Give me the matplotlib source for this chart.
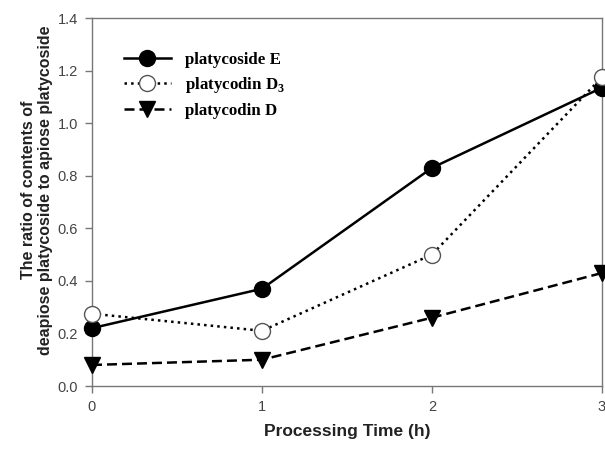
import matplotlib
matplotlib.use("Agg")
import matplotlib.pyplot as plt

time_h = [0, 1, 2, 3]
platycoside_e = [0.22, 0.37, 0.83, 1.135]
platycodin_d3 = [0.275, 0.21, 0.50, 1.175]
platycodin_d = [0.08, 0.10, 0.26, 0.43]
xticks = [0, 1, 2, 3]
yticks = [0.0, 0.2, 0.4, 0.6, 0.8, 1.0, 1.2, 1.4]

plt.rcParams['mathtext.fontset'] = 'custom'
plt.rcParams['mathtext.bf'] = 'Liberation Serif:bold'
plt.rcParams['mathtext.rm'] = 'Liberation Serif'

fig = plt.figure(figsize=(6.05, 4.5), dpi=100)
ax = fig.add_axes([92/605, 1-386/450, (602-92)/605, (386-18)/450])

ax.plot(time_h, platycoside_e, '-', color='black', lw=1.8, marker='o',
        ms=11.5, mfc='black', mec='black', clip_on=False, zorder=3,
        label='platycoside E')
ax.plot(time_h, platycodin_d3, ':', color='black', lw=1.8, marker='o',
        ms=11.5, mfc='white', mec='#555555', mew=1.0, clip_on=False, zorder=4,
        label='platycodin D$_\\mathbf{3}$')
ax.plot(time_h, platycodin_d, '--', color='black', lw=1.8, marker='v',
        ms=11.5, mfc='black', mec='black', clip_on=False, zorder=3,
        dashes=(4, 2), label='platycodin D')

ax.set_xlim(0, 3)
ax.set_ylim(0, 1.4)
ax.set_xticks(xticks)
ax.set_xticklabels([str(v) for v in xticks])
ax.set_yticks(yticks)
ax.set_yticklabels([f"{v:.1f}" for v in yticks])
for s in ax.spines.values():
    s.set_color('#777777')
    s.set_linewidth(1.0)
ax.tick_params(direction='out', length=5, color='#777777', labelcolor='#444444',
               labelsize=10.5, width=1.0, pad=5)
for lab in ax.get_xticklabels() + ax.get_yticklabels():
    lab.set_family('Liberation Sans')

ax.set_xlabel('Processing Time (h)', fontsize=12.5, fontweight='bold',
              family='Liberation Sans', color='#222222')
ax.xaxis.set_label_coords(0.5, (386-424)/368)
ax.set_ylabel('The ratio of contents of\ndeapiose platycoside to apiose platycoside',
              fontsize=11.5, fontweight='bold', family='Liberation Sans',
              color='#222222')
ax.yaxis.set_label_coords((53-92)/510, (386-190)/368)

leg = ax.legend(loc='upper left', bbox_to_anchor=(0.032, 0.95), frameon=False,
                prop={'family': 'Liberation Serif', 'weight': 'bold', 'size': 12.2},
                handlelength=2.8, labelspacing=0.45, handletextpad=0.8)

fig.savefig('out.png', dpi=100)
